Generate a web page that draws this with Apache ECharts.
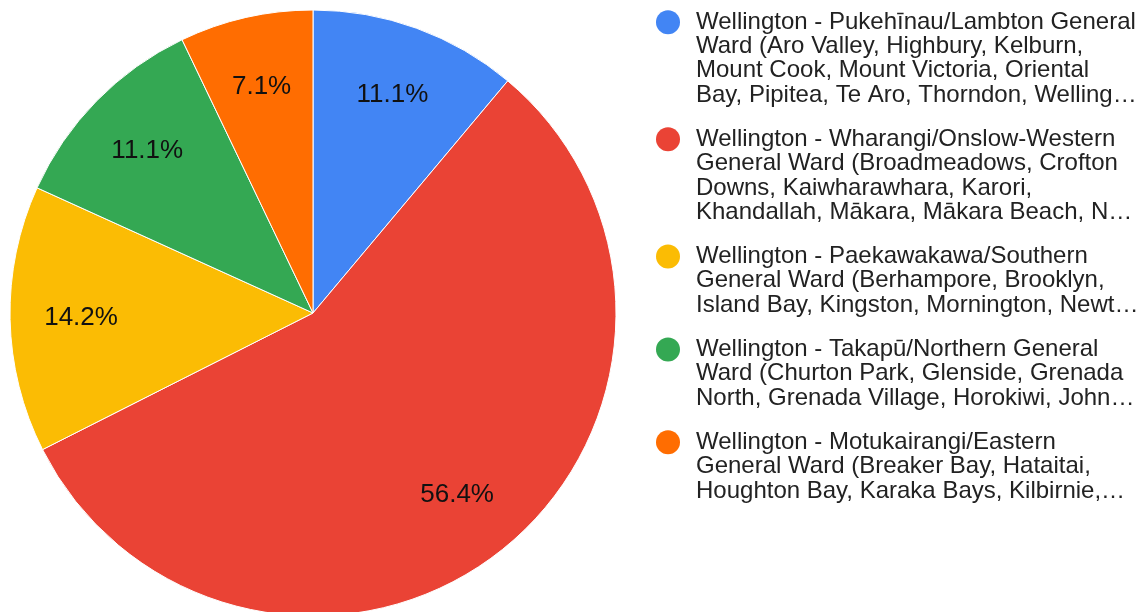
<!DOCTYPE html>
<html><head><meta charset="utf-8">
<script src="https://cdn.jsdelivr.net/npm/echarts@6/dist/echarts.min.js"></script>
<style>html,body{margin:0;padding:0;background:#fff}#c{width:1147px;height:612px}</style>
</head><body><div id="c"></div>
<script>
const legendLines = [
  ['Wellington - Pukehīnau/Lambton General', 'Ward (Aro Valley, Highbury, Kelburn,', 'Mount Cook, Mount Victoria, Oriental', 'Bay, Pipitea, Te Aro, Thorndon, Welling…'],
  ['Wellington - Wharangi/Onslow-Western', 'General Ward (Broadmeadows, Crofton', 'Downs, Kaiwharawhara, Karori,', 'Khandallah, Mākara, Mākara Beach, N…'],
  ['Wellington - Paekawakawa/Southern', 'General Ward (Berhampore, Brooklyn,', 'Island Bay, Kingston, Mornington, Newt…'],
  ['Wellington - Takapū/Northern General', 'Ward (Churton Park, Glenside, Grenada', 'North, Grenada Village, Horokiwi, John…'],
  ['Wellington - Motukairangi/Eastern', 'General Ward (Breaker Bay, Hataitai,', 'Houghton Bay, Karaka Bays, Kilbirnie,…']
];
const categories = legendLines.map(l => l.join(' '));
const values = [25, 127, 32, 25, 16];
const colors = ['#4285f4', '#ea4335', '#fbbc04', '#34a853', '#ff6d01'];

const FONT = "'Liberation Sans', Arial, sans-serif";
const total = values.reduce((a, b) => a + b, 0);
const rich = {
  g: { width: 16, height: 24, lineHeight: 24.3 },
  s: { width: 40, height: 24, lineHeight: 24.3 }
};
colors.forEach((c, i) => {
  rich['d' + i] = { width: 24, height: 24, borderRadius: 12, backgroundColor: c, lineHeight: 24.3 };
});

const chart = echarts.init(document.getElementById('c'), null, { renderer: 'canvas' });
chart.setOption({
  animation: false,
  backgroundColor: '#fff',
  legend: {
    orient: 'vertical', left: 650, top: 10, padding: 0, itemGap: 20,
    itemWidth: 0, itemHeight: 0, selectedMode: false,
    data: categories,
    textStyle: { fontSize: 24, lineHeight: 24.3, color: '#222', fontFamily: FONT, rich: rich },
    formatter: function (name) {
      const i = categories.indexOf(name);
      return legendLines[i].map((t, j) => (j === 0 ? '{d' + i + '|}{g|}' : '{s|}') + t).join('\n');
    }
  },
  series: [
    {
      type: 'pie', center: [313, 313], radius: 303, startAngle: 90, clockwise: true,
      label: { show: false }, labelLine: { show: false },
      emphasis: { disabled: true },
      itemStyle: { borderColor: '#fff', borderWidth: 1 },
      data: categories.map((n, i) => ({ name: n, value: values[i], itemStyle: { color: colors[i] } }))
    },
    {
      type: 'pie', center: [313, 313], radius: [155, 303], startAngle: 90, clockwise: true, silent: true,
      emphasis: { disabled: true },
      itemStyle: { color: 'rgba(0,0,0,0)' },
      labelLine: { show: false },
      label: {
        show: true, position: 'inside', fontSize: 26, color: '#111', fontFamily: FONT,
        formatter: p => (p.value / total * 100).toFixed(1) + '%'
      },
      data: categories.map((n, i) => ({ name: n, value: values[i] }))
    }
  ]
});
</script>
</body></html>
